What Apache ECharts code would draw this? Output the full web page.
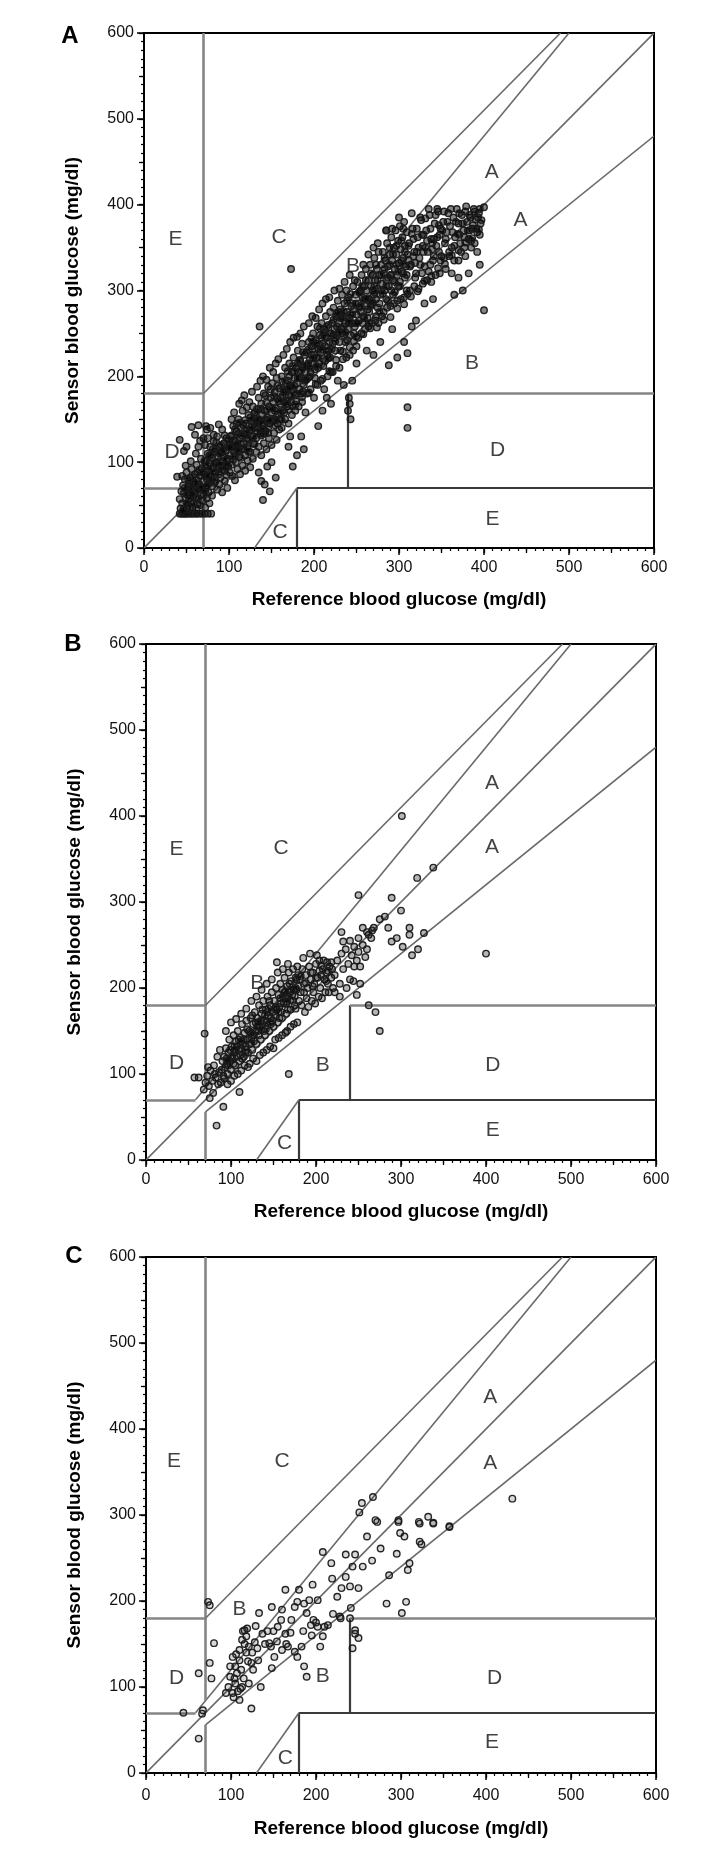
<!DOCTYPE html>
<html><head><meta charset="utf-8">
<script src="https://cdn.jsdelivr.net/npm/echarts@6/dist/echarts.min.js"></script>
<style>html,body{margin:0;padding:0;background:#fff}#c{width:724px;height:1856px}</style>
</head><body><div id="c"></div>
<script>
// ---------- data ----------
const panelNames = ['A','B','C'];
const xTitle = 'Reference blood glucose (mg/dl)';
const yTitle = 'Sensor blood glucose (mg/dl)';
const tickValues = [0,100,200,300,400,500,600];

// Clarke error grid boundaries (data units)
const zoneSegments = [
  [[0,0],[600,600]],
  [[0,70],[58.3,70]],
  [[58.3,70],[500,600]],
  [[70,84],[70,600]],
  [[0,180],[70,180]],
  [[70,180],[490,600]],
  [[70,0],[70,56]],
  [[70,56],[600,480]],
  [[180,0],[180,70]],
  [[180,70],[600,70]],
  [[240,70],[240,180]],
  [[240,180],[600,180]],
  [[130,0],[180,70]]
];

const lettersA = [['E',37,360],['C',159,362],['B',246,328],['A',409,438],['A',443,382],['B',386,215],['D',33,112],['D',416,114],['E',410,34],['C',160,18]];
const lettersB = [['E',36,361],['C',159,362],['A',407,438],['A',407,364],['B',131,206],['D',36,113],['B',208,110],['D',408,110],['E',408,35],['C',163,20]];
const lettersC = [['E',33,362],['C',160,362],['A',405,437],['A',405,360],['B',110,190],['D',36,110],['B',208,112],['D',410,110],['E',407,36],['C',164,17]];

const pointsA = [
[42,40],[44,40],[46,40],[48,40],[50,40],[52,40],[55,40],[57,40],[60,40],[62,40],[65,40],[68,40],[71,40],[75,40],[79,40],
[43,46],[45,52],[47,44],[49,58],[51,49],[53,63],[55,54],[57,47],[59,68],[61,59],[63,51],[65,74],[67,62],[69,55],[44,66],[46,73],[48,80],[50,88],[52,71],[54,82],[56,92],[58,77],[60,86],[62,97],[64,69],[66,84],[68,93],[70,78],[42,57],[47,64],[53,75],[58,60],[63,88],[67,104],[61,110],[55,101],[49,96],[45,84],[72,47],[74,58],[76,65],[73,70],[77,52],[80,61],
[39,83],[42,126],[56,141],[64,143],[60,132],[50,118],[47,113],
[71,86],[72,95],[73,102],[74,80],[75,110],[76,90],[77,99],[78,118],[79,84],[80,105],[81,93],[82,124],[83,112],[84,88],[85,100],[86,130],[87,107],[88,95],[89,118],[90,82],[91,111],[92,138],[93,101],[94,122],[95,90],[96,113],[97,128],[98,104],[99,95],[100,120],
[72,120],[75,128],[78,140],[80,72],[83,76],[86,68],[89,74],[92,65],[95,78],[98,70],[74,138],[82,132],[88,144],[94,106],[97,85],[91,96],[85,115],[79,108],[76,75],[70,128],[73,142],[66,125],[64,118],
[101,108],[102,130],[103,97],[104,118],[105,142],[106,112],[107,125],[108,100],[109,136],[110,118],[111,150],[112,106],[113,128],[114,140],[115,115],[116,160],[117,122],[118,133],[119,108],[120,145],[121,128],[122,118],[123,155],[124,137],[125,112],[126,148],[127,130],[128,165],[129,122],[130,140],
[101,88],[104,84],[107,79],[110,92],[113,86],[116,96],[119,90],[122,102],[125,94],[128,104],[103,150],[106,158],[109,145],[112,168],[115,172],[118,178],[121,164],[124,170],[127,182],[130,158],
[102,118],[105,125],[108,115],[111,133],[114,122],[117,143],[120,132],[123,126],[126,138],[129,148],
[131,150],[132,128],[133,162],[134,140],[135,175],[136,148],[137,133],[138,168],[139,155],[140,142],[141,180],[142,160],[143,136],[144,170],[145,152],[146,188],[147,165],[148,145],[149,175],[150,158],[151,192],[152,170],[153,150],[154,182],[155,163],[156,198],[157,174],[158,156],[159,186],[160,168],
[132,112],[135,118],[138,108],[141,122],[144,115],[147,128],[150,120],[153,134],[156,126],[159,138],[133,188],[137,195],[140,200],[144,196],[148,210],[152,205],[155,215],[158,220],
[134,145],[139,138],[143,150],[146,140],[151,148],[154,160],[157,145],[160,150],
[135,88],[140,56],[142,74],[145,95],[150,100],[155,82],[148,66],[138,78],
[161,175],[162,200],[163,160],[164,185],[165,170],[166,210],[167,182],[168,165],[169,195],[170,178],[171,215],[172,190],[173,170],[174,205],[175,185],[176,222],[177,198],[178,178],[179,210],[180,192],[181,230],[182,205],[183,185],[184,218],[185,198],[186,238],[187,210],[188,190],[189,225],[190,205],
[162,140],[166,150],[170,145],[174,155],[178,160],[182,165],[186,170],[190,158],[164,225],[168,232],[172,240],[176,245],[180,246],[184,250],[188,258],
[163,178],[167,192],[171,200],[175,165],[179,180],[183,198],[187,182],[165,158],[169,172],[173,188],[177,205],[181,215],[185,180],[189,195],
[170,118],[175,95],[180,108],[185,130],[188,115],[172,130],
[191,228],[192,212],[193,198],[194,240],[195,220],[196,205],[197,235],[198,215],[199,250],[200,225],[201,208],[202,242],[203,222],[204,258],[205,232],[206,215],[207,248],[208,228],[209,262],[210,238],[211,220],[212,255],[213,235],[214,270],[215,245],[216,225],[217,260],[218,240],[219,275],[220,250],
[192,180],[196,185],[200,175],[204,190],[208,195],[212,185],[216,200],[220,205],[194,262],[198,270],[202,268],[206,278],[210,285],[214,290],[218,292],
[193,215],[197,225],[201,232],[205,210],[209,245],[213,218],[217,230],[195,200],[199,240],[203,212],[207,236],[211,250],[215,230],[219,222],
[210,160],[205,142],[215,175],[220,168],
[221,262],[222,238],[223,280],[224,255],[225,230],[226,270],[227,248],[228,288],[229,262],[230,240],[231,278],[232,255],[233,295],[234,270],[235,248],[236,285],[237,262],[238,300],[239,275],[240,255],[241,292],[242,268],[243,248],[244,282],[245,262],[246,305],[247,278],[248,258],[249,295],[250,272],
[222,205],[226,212],[230,210],[234,220],[238,222],[242,225],[246,230],[250,235],[224,300],[230,302],[236,310],[242,318],[248,312],
[223,248],[227,258],[231,268],[235,258],[239,242],[243,272],[247,250],[225,245],[229,275],[233,250],[237,240],[241,262],[245,285],[249,262],
[241,175],[242,168],[240,160],[243,150],[250,215],[245,195],[235,190],[228,195],
[251,310],[252,285],[253,265],[254,298],[255,275],[256,318],[257,292],[258,270],[259,305],[260,282],[261,325],[262,300],[263,278],[264,312],[265,290],[266,330],[267,305],[268,284],[269,318],[270,295],[271,338],[272,312],[273,290],[274,325],[275,302],[276,345],[277,318],[278,295],[279,330],[280,308],
[252,245],[256,250],[260,255],[264,258],[268,262],[272,265],[276,262],[280,270],[258,330],[264,342],[270,350],[275,355],
[253,280],[257,262],[261,290],[265,275],[269,300],[273,270],[277,285],[255,300],[259,290],[263,268],[267,282],[271,305],[275,280],[279,300],
[270,225],[262,230],[278,240],
[281,345],[282,320],[283,300],[284,335],[285,312],[286,355],[287,328],[288,305],[289,342],[290,318],[291,362],[292,335],[293,312],[294,350],[295,325],[296,370],[297,342],[298,318],[299,358],[300,332],[301,375],[302,348],[303,322],[304,362],[305,338],[306,380],[307,352],[308,328],[309,368],[310,342],
[282,275],[286,280],[290,282],[294,285],[298,288],[302,290],[306,292],[310,296],[285,370],[292,372],[300,385],
[283,325],[287,315],[291,300],[295,310],[299,305],[303,335],[307,315],[285,290],[289,330],[293,295],[297,330],[301,310],[305,320],[309,318],
[288,213],[298,222],[310,227],[306,240],[292,255],
[312,355],[314,330],[316,372],[318,345],[320,320],[322,362],[324,338],[326,382],[328,352],[330,328],[332,370],[334,345],[336,388],[338,360],[340,335],[342,378],[344,352],[346,392],[348,365],[350,340],
[313,300],[318,305],[323,302],[328,308],[333,312],[338,310],[343,318],[348,320],[315,390],[325,385],[335,395],[345,395],
[311,336],[317,360],[321,345],[327,320],[331,350],[337,330],[341,360],[347,345],[319,332],[329,365],[339,348],[349,372],
[310,164],[310,140],[320,265],[330,285],[340,290],[315,258],
[352,380],[354,355],[356,368],[358,390],[360,375],[362,350],[364,385],[366,362],[368,395],[370,378],[372,355],[374,388],[376,370],[378,392],[380,380],[382,360],[384,385],[386,372],[388,395],[390,383],[392,368],[394,390],[396,378],[400,397],
[355,325],[362,320],[370,335],[378,340],[385,350],[392,345],
[353,338],[359,345],[365,335],[371,365],[377,350],[383,370],[389,355],[395,365],
[365,295],[375,300],[370,315],[382,320],[400,277],[395,330],
[173,325],[136,258],[285,370],[305,372],
[51,62],[53,57],[55,69],[57,83],[59,74],[61,66],[63,79],[65,91],[67,71],[69,88],[71,101],[73,84],[75,96],[77,108],[79,92],[81,115],[83,99],[85,123],[87,96],[89,110],[91,120],[93,114],[95,131],[97,103],[99,126],[101,117],[103,131],[105,103],[107,138],[109,121],[111,113],[113,146],[115,131],[117,116],[119,149],[121,137],[123,112],[125,152],[127,141],[129,130],[131,158],[133,135],[135,150],[137,162],[139,146],[141,133],[143,178],[145,161],[147,149],[149,185],[151,163],[153,177],[155,149],[157,189],[159,171],[161,158],[163,194],[165,183],[167,168],[169,206],[171,187],[173,178],[175,212],[177,189],[179,171],[181,198],[183,219],[185,207],[187,228],[189,212],[191,196],[193,231],[195,210],[197,244],[199,221],[201,198],[203,238],[205,222],[207,256],[209,231],[211,212],[213,246],[215,258],[217,221],[219,250],[221,232],[223,266],[225,241],[227,274],[229,252],[231,230],[233,268],[235,276],[237,251],[239,288],[241,264],[243,296],[245,272],[247,241],[249,285],[251,262],[253,298],[255,282],[257,305],[259,268],[261,312],[263,291],[265,262],[267,320],[269,286],[271,298],[273,330],[275,312],[277,275],[279,318],[281,296],[283,338],[285,305],[287,288],[289,350],[291,318],[293,342],[295,298],[297,352],[299,322],[301,305],[303,358],[305,330],[307,345],[309,300],[311,352],[313,328],[315,366],[317,340],[319,315],[321,372],[323,350],[325,330],[327,365],[329,345],[331,384],[333,358],[335,322],[337,372],[339,355],[341,340],[343,388],[345,362],[347,376],[349,335],[351,370],[353,392],[355,360],[357,380],[359,340],[361,395],[363,368],[365,352],[367,380],[369,366],[371,390],[373,345],[375,378],[377,362],[379,398],[381,370],[383,388],[385,358],[387,376],[389,392],[391,372],[393,385],[395,395],[397,382],
[46,44],[50,52],[54,48],[58,52],[62,46],[66,50],[70,62],[52,80],[48,70],[56,63],[60,76],[64,58],[68,70],[72,66],[76,84],[80,80],[84,78],[88,86],[92,91],[96,94],[74,72],[82,88],[90,100],[98,97],[106,107],[114,105],[122,116],[130,121],[138,131],[146,134],[154,143],[162,149],[170,161],[178,167],[186,176],[194,181],[202,191],[210,197],[218,206],[226,219],[234,229],[242,234],[250,246],[258,249],[266,256],[274,257],[282,266],[290,269],[298,279],[306,284],[314,293],[322,299],[330,311],[338,317],[346,326],[354,331],[362,341],[370,347],[378,356],[386,361],[394,371]
];

const pointsB = [
[62,96],[68,82],[70,90],[72,98],[74,86],[76,104],[78,92],[80,110],[82,96],[84,120],[86,102],[88,90],[90,115],[69,147],[57,96],[91,62],[83,40],[75,72],[79,78],[85,88],[87,128],[73,108],[81,100],[89,105],
[91,98],[92,120],[93,108],[94,130],[95,112],[96,100],[97,125],[98,140],[99,115],[100,105],[101,132],[102,118],[103,145],[104,125],[105,110],[106,138],[107,120],[108,150],[109,128],[110,115],[111,142],[112,130],[113,158],[114,135],[115,120],[116,148],[117,132],[118,162],[119,140],[120,125],
[92,95],[96,88],[100,92],[104,98],[108,100],[112,104],[116,110],[120,108],[110,79],[94,150],[100,160],[106,164],[112,170],[118,176],
[95,118],[99,128],[103,112],[107,132],[111,122],[115,140],[119,152],[97,110],[101,120],[105,128],[109,140],[113,118],[117,125],
[121,150],[122,135],[123,165],[124,142],[125,128],[126,158],[127,145],[128,172],[129,150],[130,135],[131,165],[132,150],[133,180],[134,155],[135,140],[136,170],[137,158],[138,185],[139,162],[140,145],[141,175],[142,160],[143,190],[144,168],[145,150],[146,180],[147,165],[148,195],[149,172],[150,155],
[122,112],[126,118],[130,115],[134,122],[138,125],[142,128],[146,132],[150,130],[124,185],[130,190],[136,198],[142,205],[148,210],
[123,148],[127,138],[131,155],[135,162],[139,150],[143,172],[147,158],[125,168],[129,160],[133,145],[137,175],[141,152],[145,185],[149,162],
[151,185],[152,168],[153,200],[154,175],[155,160],[156,192],[157,178],[158,205],[159,182],[160,165],[161,198],[162,182],[163,212],[164,188],[165,170],[166,202],[167,190],[168,218],[169,195],[170,175],[171,208],[172,192],[173,222],[174,198],[175,180],[176,212],[177,198],[178,225],[179,202],[180,185],
[152,140],[156,142],[160,145],[164,148],[168,100],[166,150],[170,155],[174,158],[178,160],[155,218],[161,222],[167,228],[154,230],
[153,178],[157,165],[161,190],[165,182],[169,205],[173,185],[177,210],[159,172],[163,195],[167,175],[171,198],[175,190],[179,215],
[181,210],[182,195],[184,222],[186,205],[188,215],[190,200],[192,225],[194,210],[196,218],[198,205],[200,228],[202,212],[204,220],[206,215],[208,222],[210,210],[212,218],[214,205],[216,225],[218,212],
[183,180],[187,172],[191,178],[195,185],[199,182],[203,190],[207,188],[211,195],[185,235],[193,240],[201,238],[209,232],[215,195],[220,200],
[189,188],[197,195],[205,200],[213,230],[219,222],
[222,215],[225,232],[228,205],[230,240],[232,222],[235,245],[238,228],[240,210],[242,238],[245,248],[248,232],[250,242],[252,225],[255,250],[258,236],[260,245],[222,195],[228,190],[236,200],[244,208],[252,205],[262,262],[265,258],[268,270],[240,255],[245,225],[250,258],
[270,172],[275,150],[262,180],[248,192],
[281,283],[289,305],[301,400],[319,328],[338,340],[250,308],[266,267],[289,254],[302,248],[327,264],[313,238],[400,240],[295,258],[310,262],[285,270],[275,280],[260,265],[255,270],[232,254],[230,265],[300,290],[320,245],[310,270],
[96,116],[104,132],[112,138],[118,128],[126,146],[132,160],[140,168],[146,160],[152,176],[158,188],[164,196],[170,186],[176,200],[182,214],[188,206],[194,218],[200,212],[206,226],[212,208],[218,230],[124,136],[136,152],[144,176],[156,172],[166,184],[176,176],[186,195],[196,202],[204,232],[214,220]
];

const pointsC = [
[208,257],[218,244],[235,254],[246,254],[243,240],[235,228],[219,226],[266,247],[276,261],[295,255],[310,244],[308,236],[260,275],[272,292],[297,292],[299,279],[304,275],[322,290],[338,290],[357,286],[322,269],[324,266],[286,230],[283,197],[306,199],[301,186],
[240,217],[250,215],[241,192],[229,180],[214,172],[202,170],[197,178],[208,159],[205,147],[194,172],[186,197],[192,201],[196,219],[202,201],[189,186],[178,199],[180,213],[164,213],[175,193],[171,178],[160,190],[148,193],[159,178],[164,162],[167,147],[183,147],[178,135],[186,124],[189,112],[175,141],[160,143],[154,153],[147,147],[151,135],[148,122],[145,151],[137,162],[133,186],[129,171],[116,166],[121,147],[124,128],[118,159],[113,155],[110,143],[105,124],[110,131],[99,124],[102,135],[107,116],[99,112],[105,104],[97,100],[102,93],[110,85],[94,93],[113,100],[121,104],[126,120],[132,131],[135,100],[124,75],
[80,151],[75,195],[73,199],[77,110],[62,116],[75,128],[67,73],[66,69],[44,70],[62,40],
[240,180],[228,182],[243,145],[246,162],[250,157],[246,166],
[267,321],[254,314],[251,303],[270,294],[297,294],[321,292],[332,298],[338,291],[357,287],[431,319],
[108,95],[112,120],[115,110],[106,138],[118,140],[104,110],[111,98],[116,150],[120,130],[103,88],[114,165],[119,168],[125,140],[128,152],[131,145],[140,150],[143,165],[150,165],[155,170],[165,150],[170,163],[185,165],[195,160],[200,175],[210,170],[220,185],[225,205],[230,215],[255,240]
];

// ---------- chart ----------
const FONT = "'Liberation Sans', Arial, Helvetica, sans-serif";
const panelBoxes = [
  {left:144, top:33, width:510, height:515, lblMargin:12, nameGap:42, fill:'rgba(0,0,0,0.5)'},
  {left:146, top:644, width:510, height:516, lblMargin:12, nameGap:42, fill:'rgba(0,0,0,0.3)'},
  {left:146, top:1257, width:510, height:516, lblMargin:15, nameGap:46, fill:'rgba(0,0,0,0.16)'}
];
const panelPoints = [pointsA, pointsB, pointsC];
const panelLetters = [lettersA, lettersB, lettersC];
const letterCenters = [[70,36],[73,644],[74,1256]];
const thinIdx = [0,2,5,7,12];
const darkIdx = [8,9,10];

const grids = [], xAxes = [], yAxes = [], series = [], graphics = [];

panelBoxes.forEach((b, p) => {
  grids.push({left:b.left, top:b.top, width:b.width, height:b.height, show:true,
    borderColor:'#000', borderWidth:2, backgroundColor:'transparent'});
  const common = {type:'value', min:0, max:600, gridIndex:p, splitLine:{show:false}};
  xAxes.push(Object.assign({}, common, {
    position:'bottom', interval:100,
    axisLine:{show:true, onZero:false, lineStyle:{color:'#000', width:2}},
    axisTick:{show:true, length:7, lineStyle:{color:'#000', width:1.5}},
    minorTick:{show:true, splitNumber:10, length:3, lineStyle:{color:'#000', width:1.2}},
    axisLabel:{show:true, margin:b.lblMargin, fontFamily:FONT, fontSize:16, color:'#111',
      formatter: v => tickValues.includes(v) ? String(v) : ''},
    name:xTitle, nameLocation:'middle', nameGap:b.nameGap,
    nameTextStyle:{fontFamily:FONT, fontSize:19, fontWeight:'bold', color:'#000'}
  }));
  xAxes.push(Object.assign({}, common, {
    position:'bottom', interval:50,
    axisLine:{show:false}, axisLabel:{show:false},
    axisTick:{show:true, length:5, lineStyle:{color:'#000', width:1.3}}
  }));
  yAxes.push(Object.assign({}, common, {
    position:'left', interval:100,
    axisLine:{show:true, onZero:false, lineStyle:{color:'#000', width:2}},
    axisTick:{show:true, length:7, lineStyle:{color:'#000', width:1.5}},
    minorTick:{show:true, splitNumber:10, length:3, lineStyle:{color:'#000', width:1.2}},
    axisLabel:{show:true, margin:10, fontFamily:FONT, fontSize:16, color:'#111',
      formatter: v => tickValues.includes(v) ? String(v) : ''},
    name:yTitle, nameLocation:'middle', nameGap:62, nameRotate:90,
    nameTextStyle:{fontFamily:FONT, fontSize:19, fontWeight:'bold', color:'#000'}
  }));
  yAxes.push(Object.assign({}, common, {
    position:'left', interval:50,
    axisLine:{show:false}, axisLabel:{show:false},
    axisTick:{show:true, length:5, lineStyle:{color:'#000', width:1.3}}
  }));

  series.push({
    type:'lines', coordinateSystem:'cartesian2d', xAxisIndex:2*p, yAxisIndex:2*p,
    silent:true, z:2, polyline:false,
    data: zoneSegments.map((s, i) => ({
      coords:s,
      lineStyle: thinIdx.includes(i) ? {color:'#6a6a6a', width:1.6, opacity:1}
        : darkIdx.includes(i) ? {color:'#3a3a3a', width:2.2, opacity:1}
        : {color:'#858585', width:2.6, opacity:1}
    }))
  });
  series.push({
    type:'scatter', xAxisIndex:2*p, yAxisIndex:2*p, z:3, silent:true,
    symbol:'circle', symbolSize:6.5,
    itemStyle:{color:b.fill, borderColor:'#1a1a1a', borderWidth:1.4, opacity:0.95},
    data: panelPoints[p]
  });
  series.push({
    type:'scatter', xAxisIndex:2*p, yAxisIndex:2*p, z:4, silent:true,
    symbolSize:0,
    label:{show:true, position:'inside', formatter: d => d.name,
      fontFamily:FONT, fontSize:21, color:'#111'},
    data: panelLetters[p].map(l => ({name:l[0], value:[l[1], l[2]]}))
  });
  graphics.push({type:'text', x:letterCenters[p][0], y:letterCenters[p][1],
    style:{text:panelNames[p], font:"bold 24px "+FONT, fill:'#000', textAlign:'center', textVerticalAlign:'middle'}});
});

const chart = echarts.init(document.getElementById('c'), null, {renderer:'canvas'});
chart.setOption({
  animation:false, backgroundColor:'#fff',
  grid:grids, xAxis:xAxes, yAxis:yAxes, series:series, graphic:graphics
});
</script></body></html>
